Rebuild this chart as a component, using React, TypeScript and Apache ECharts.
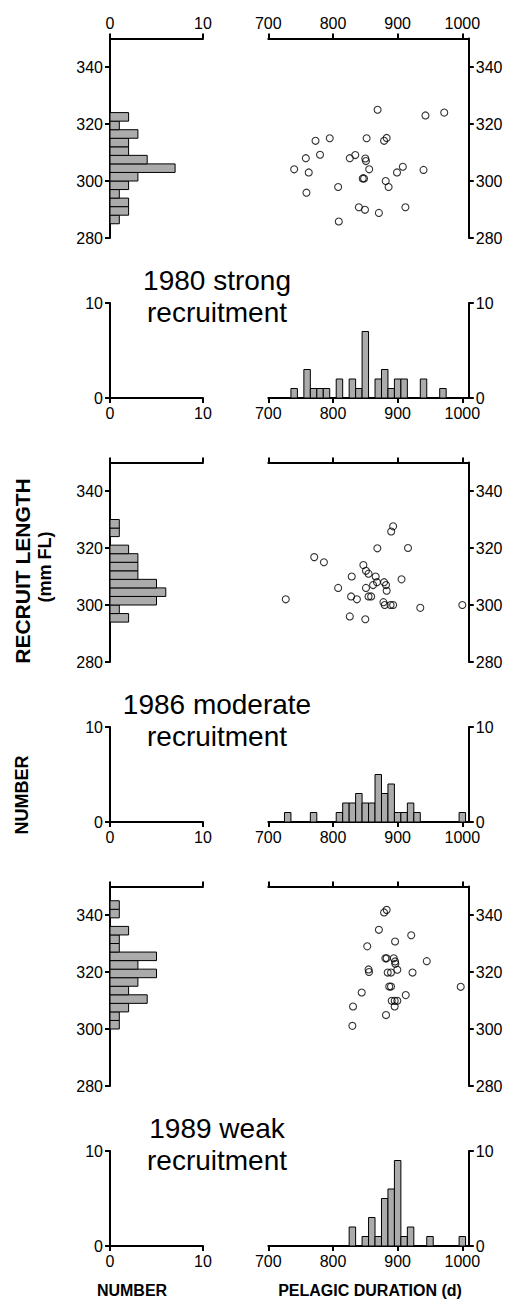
import React, { useEffect, useRef } from 'react';
import * as echarts from 'echarts';

// ---------- DATA ----------
const titles = [
  ['1980 strong', 'recruitment'],
  ['1986 moderate', 'recruitment'],
  ['1989 weak', 'recruitment'],
];

// Recruit length histograms (3 mm bins, lower edge) -> counts
const lenBins1980 = [285, 288, 291, 294, 297, 300, 303, 306, 309, 312, 315, 318, 321];
const lenCounts1980 = [1, 2, 2, 1, 2, 3, 7, 4, 2, 2, 3, 1, 2];
const lenBins1986 = [294, 297, 300, 303, 306, 309, 312, 315, 318, 321, 324, 327];
const lenCounts1986 = [2, 1, 5, 6, 5, 3, 3, 3, 2, 0, 1, 1];
const lenBins1989 = [300, 303, 306, 309, 312, 315, 318, 321, 324, 327, 330, 333, 336, 339, 342];
const lenCounts1989 = [1, 1, 2, 4, 2, 3, 5, 3, 5, 1, 1, 2, 0, 1, 1];

// Pelagic duration histograms (10 d bins, centre) -> counts
const durBins1980 = [740, 760, 770, 780, 790, 810, 830, 840, 850, 870, 880, 890, 900, 910, 940, 970];
const durCounts1980 = [1, 3, 1, 1, 1, 2, 2, 1, 7, 2, 3, 1, 2, 2, 2, 1];
const durBins1986 = [730, 770, 810, 820, 830, 840, 850, 860, 870, 880, 890, 900, 910, 920, 930, 1000];
const durCounts1986 = [1, 1, 1, 2, 2, 3, 2, 2, 5, 3, 4, 1, 1, 2, 1, 1];
const durBins1989 = [830, 850, 860, 870, 880, 890, 900, 910, 920, 950, 1000];
const durCounts1989 = [2, 1, 3, 1, 5, 6, 9, 1, 2, 1, 1];

// Scatter: [pelagic duration (d), recruit length (mm FL)]
const scatter1980 = [
  [869, 325], [943, 323], [972, 324], [773, 314.1], [795, 315], [852, 315], [883, 315.1],
  [879, 314.1], [758, 308], [780, 309.2], [826, 308], [834.5, 309.1], [850, 307.9], [851, 307],
  [740, 304.1], [762.5, 303], [856, 304.1], [908, 305], [899, 303], [940, 303.9], [846, 300.9],
  [848, 300.9], [881.5, 300], [886, 297.9], [808, 297.9], [759, 295.9], [840, 290.8], [849.5, 289.9],
  [871, 288.8], [912, 290.8], [809, 285.8],
];
const scatter1986 = [
  [893, 327.6], [890, 325.8], [868.6, 319.9], [916, 320], [771, 316.8], [786, 315], [847, 314],
  [851, 312], [855, 311], [829, 310], [866, 310], [868, 308], [879, 308], [906, 309], [808, 306],
  [882, 307], [862, 307], [851, 306], [828, 303], [837, 302], [855, 303], [859, 303], [883, 305],
  [878, 301], [880, 300], [889, 300], [893, 300], [727, 302], [935, 299], [1000, 300], [826, 296],
  [850, 295],
];
const scatter1989 = [
  [883, 341.8], [879, 340.9], [871, 334.8], [921, 332.9], [896, 330.7], [853, 329], [881, 324.8],
  [883, 324.8], [894, 324.8], [896, 323.7], [896.4, 322.9], [945, 323.8], [855, 320.9], [855.7, 320],
  [884.6, 319.8], [889.7, 319.8], [899.5, 320.8], [923, 319.8], [887, 314.9], [889.7, 314.9],
  [997.5, 314.8], [844.4, 312.8], [912.5, 311.9], [890.8, 309.9], [895.4, 309.9], [899.5, 309.9],
  [895.4, 307.9], [831, 307.9], [882, 304.9], [830, 301.1],
];

const lenBins = [lenBins1980, lenBins1986, lenBins1989];
const lenCounts = [lenCounts1980, lenCounts1986, lenCounts1989];
const durBins = [durBins1980, durBins1986, durBins1989];
const durCounts = [durCounts1980, durCounts1986, durCounts1989];
const scatters = [scatter1980, scatter1986, scatter1989];

const lenTicks = [280, 300, 320, 340];
const durTicks = [700, 800, 900, 1000];
const numTicks = [0, 10];

// ---------- LAYOUT ----------
const FONT = '"Liberation Sans", Arial, Helvetica, sans-serif';
const OFFS = [0, 424, 848];
const LX = 110, LW = 93;
const RX = 268.3, RW = 200.5;
const TY = 38.5, TH = 199.5;
const BY = 303, BH = 95;
const BAR_FILL = '#ababab';

function axisCommon(ticks: number[], showLabel: boolean) {
  return {
    type: 'value',
    axisLine: { show: true, onZero: false, lineStyle: { color: '#000', width: 2 } },
    axisTick: { show: true, length: 5, lineStyle: { color: '#000', width: 2 }, customValues: ticks },
    axisLabel: {
      show: showLabel, color: '#000', fontSize: 16, fontFamily: FONT, margin: 7,
      customValues: ticks,
      formatter: (v: number) => String(v),
    },
    splitLine: { show: false },
  };
}

function buildOption() {
  const grid: any[] = [];
  const xAxis: any[] = [];
  const yAxis: any[] = [];
  const series: any[] = [];
  const graphic: any[] = [];

  for (let g = 0; g < 3; g++) {
    const o = OFFS[g];
    const gi = g * 4;
    grid.push({ left: LX, top: TY + o, width: LW, height: TH });
    grid.push({ left: RX, top: TY + o, width: RW, height: TH });
    grid.push({ left: LX, top: BY + o, width: LW, height: BH });
    grid.push({ left: RX, top: BY + o, width: RW, height: BH });

    xAxis.push({ ...axisCommon(numTicks, g === 0), gridIndex: gi, position: 'top', min: 0, max: 10 });
    yAxis.push({ ...axisCommon(lenTicks, true), gridIndex: gi, position: 'left', min: 280, max: 350 });
    xAxis.push({ ...axisCommon(durTicks, g === 0), gridIndex: gi + 1, position: 'top', min: 700, max: 1010 });
    yAxis.push({ ...axisCommon(lenTicks, true), gridIndex: gi + 1, position: 'right', min: 280, max: 350 });
    xAxis.push({ ...axisCommon(numTicks, true), gridIndex: gi + 2, position: 'bottom', min: 0, max: 10 });
    yAxis.push({ ...axisCommon(numTicks, true), gridIndex: gi + 2, position: 'left', min: 0, max: 10 });
    xAxis.push({ ...axisCommon(durTicks, true), gridIndex: gi + 3, position: 'bottom', min: 700, max: 1010 });
    yAxis.push({ ...axisCommon(numTicks, true), gridIndex: gi + 3, position: 'right', min: 0, max: 10 });

    // horizontal length histogram
    series.push({
      type: 'custom',
      xAxisIndex: gi,
      yAxisIndex: gi,
      encode: { x: 2, y: [0, 1] },
      data: lenBins[g].map((b, i) => [b, b + 3, lenCounts[g][i]]).filter((d) => d[2] > 0),
      renderItem: (params: any, api: any) => {
        const p0 = api.coord([0, api.value(0)]);
        const p1 = api.coord([api.value(2), api.value(1)]);
        return {
          type: 'rect',
          shape: { x: p0[0], y: p1[1], width: p1[0] - p0[0], height: p0[1] - p1[1] },
          style: { fill: BAR_FILL, stroke: '#000', lineWidth: 1 },
        };
      },
      z: 1,
    });

    // scatter
    series.push({
      type: 'scatter',
      xAxisIndex: gi + 1,
      yAxisIndex: gi + 1,
      data: scatters[g],
      symbol: 'circle',
      symbolSize: 7,
      itemStyle: { color: 'rgba(0,0,0,0)', borderColor: '#000', borderWidth: 1.1 },
      z: 3,
    });

    // vertical duration histogram
    series.push({
      type: 'custom',
      xAxisIndex: gi + 3,
      yAxisIndex: gi + 3,
      encode: { x: [0, 1], y: 2 },
      data: durBins[g].map((c, i) => [c - 5, c + 5, durCounts[g][i]]),
      renderItem: (params: any, api: any) => {
        const p0 = api.coord([api.value(0), 0]);
        const p1 = api.coord([api.value(1), api.value(2)]);
        return {
          type: 'rect',
          shape: { x: p0[0], y: p1[1], width: p1[0] - p0[0], height: p0[1] - p1[1] },
          style: { fill: BAR_FILL, stroke: '#000', lineWidth: 1 },
        };
      },
      z: 1,
    });

    // titles
    graphic.push({
      type: 'text',
      x: 217,
      y: 296 + o,
      style: {
        text: titles[g][0] + '\n' + titles[g][1],
        font: `28px ${FONT}`,
        lineHeight: 32,
        fill: '#000',
        align: 'center',
        verticalAlign: 'middle',
      },
    });
  }

  graphic.push(
    {
      type: 'text', x: 22, y: 571, rotation: Math.PI / 2,
      style: { text: 'RECRUIT LENGTH', font: `bold 21px ${FONT}`, fill: '#000', align: 'center', verticalAlign: 'middle' },
    },
    {
      type: 'text', x: 45, y: 567, rotation: Math.PI / 2,
      style: { text: '(mm FL)', font: `bold 18px ${FONT}`, fill: '#000', align: 'center', verticalAlign: 'middle' },
    },
    {
      type: 'text', x: 22, y: 795, rotation: Math.PI / 2,
      style: { text: 'NUMBER', font: `bold 18px ${FONT}`, fill: '#000', align: 'center', verticalAlign: 'middle' },
    },
    {
      type: 'text', x: 132, y: 1290,
      style: { text: 'NUMBER', font: `bold 16px ${FONT}`, fill: '#000', align: 'center', verticalAlign: 'middle' },
    },
    {
      type: 'text', x: 370, y: 1290,
      style: { text: 'PELAGIC DURATION (d)', font: `bold 16px ${FONT}`, fill: '#000', align: 'center', verticalAlign: 'middle' },
    }
  );

  return {
    animation: false,
    backgroundColor: '#fff',
    grid,
    xAxis,
    yAxis,
    series,
    graphic,
  };
}

export default function App() {
  const ref = useRef<HTMLDivElement>(null);
  useEffect(() => {
    if (!ref.current) return;
    const chart = echarts.init(ref.current, undefined, { renderer: 'svg' });
    chart.setOption(buildOption() as any);
    return () => chart.dispose();
  }, []);
  return (
    <div
      ref={ref}
      style={{ position: 'absolute', left: 0, top: 0, width: 512, height: 1311, background: '#fff' }}
    />
  );
}
